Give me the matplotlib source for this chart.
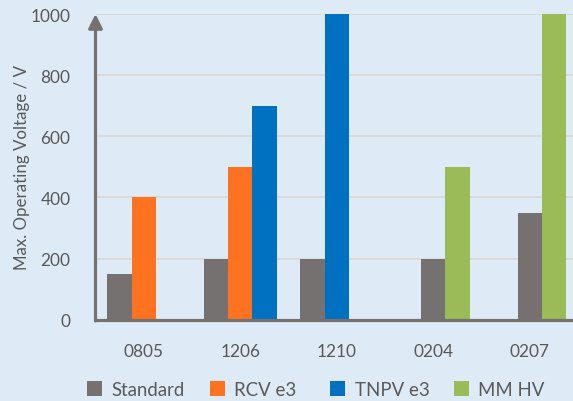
import numpy as np
import matplotlib
matplotlib.use("Agg")
import matplotlib.pyplot as plt
from matplotlib.patches import Patch

categories = ["0805", "1206", "1210", "0204", "0207"]
series_names = ["Standard", "RCV e3", "TNPV e3", "MM HV"]
standard = [150, 200, 200, 200, 350]
rcv_e3 = [400, 500, np.nan, np.nan, np.nan]
tnpv_e3 = [np.nan, 700, 1000, np.nan, np.nan]
mm_hv = [np.nan, np.nan, np.nan, 500, 1000]
y_ticks = [0, 200, 400, 600, 800, 1000]

# layout (not data)
colors = ["#767171", "#FF7320", "#0070C0", "#9BBB59"]
slot_start = [-1, -1, -1, 0, 0]
slot_w = 0.252
bg = "#DEEBF7"
txt = "#595959"
axc = "#767171"
font = "Lato"

plt.rcParams["font.family"] = [font, "DejaVu Sans"]

fig = plt.figure(figsize=(5.73, 4.02), dpi=100, facecolor=bg)
W, H = 573, 402
left = 95.5 / W
cat_px = 96.5
bottom = (H - 320.7) / H
top = (H - 15) / H
ax = fig.add_axes([left, bottom, 5 * cat_px / W, top - bottom])
ax.set_facecolor(bg)

all_series = [standard, rcv_e3, tnpv_e3, mm_hv]
xs = {k: [] for k in range(4)}
vs = {k: [] for k in range(4)}
for i in range(len(categories)):
    k = 0
    for s, ser in enumerate(all_series):
        v = ser[i]
        if v is None or np.isnan(v):
            continue
        xs[s].append(i + (slot_start[i] + k) * slot_w)
        vs[s].append(v)
        k += 1
for s in range(4):
    ax.bar(xs[s], vs[s], width=slot_w, color=colors[s], zorder=3,
           linewidth=0)

ax.set_xlim(-0.5, len(categories) - 0.5)
ax.set_ylim(0, 1000)
ax.set_yticks(y_ticks)
ax.set_yticklabels([str(t) for t in y_ticks])
ax.set_xticks(range(len(categories)))
ax.set_xticklabels(categories)
ax.tick_params(axis="both", length=0, labelsize=12.4, colors=txt)
ax.tick_params(axis="y", pad=18)
ax.tick_params(axis="x", pad=17)
ax.grid(axis="y", color="#D9D9D9", linewidth=1.3, zorder=0)
ax.set_axisbelow(True)
for sp in ["top", "right", "left"]:
    ax.spines[sp].set_visible(False)
ax.spines["bottom"].set_color(axc)
ax.spines["bottom"].set_linewidth(2.3)
ax.spines["bottom"].set_zorder(4)

ax.annotate("", xy=(0, 1.0), xycoords="axes fraction", xytext=(0, -0.004),
            textcoords="axes fraction",
            arrowprops=dict(arrowstyle="-|>,head_length=0.6,head_width=0.3",
                            color=axc, lw=2.3, shrinkA=0, shrinkB=0,
                            mutation_scale=14),
            zorder=5, annotation_clip=False)

fig.text(22 / W, 1 - 168 / H, "Max. Operating Voltage / V", rotation=90,
         ha="center", va="center", fontsize=12.2, color=txt)

# legend
leg_x = [88, 211, 331.5, 455]
for s in range(4):
    h = [Patch(facecolor=colors[s], edgecolor="none")]
    lg = fig.legend(h, [series_names[s]], loc="center left",
                    bbox_to_anchor=(leg_x[s] / W - 0.002, 1 - 390.5 / H),
                    frameon=False, fontsize=13.4, handlelength=0.8,
                    handleheight=0.8, handletextpad=0.5, borderpad=0,
                    borderaxespad=0, labelcolor=txt)

fig.savefig("out.png", dpi=100, facecolor=bg)
